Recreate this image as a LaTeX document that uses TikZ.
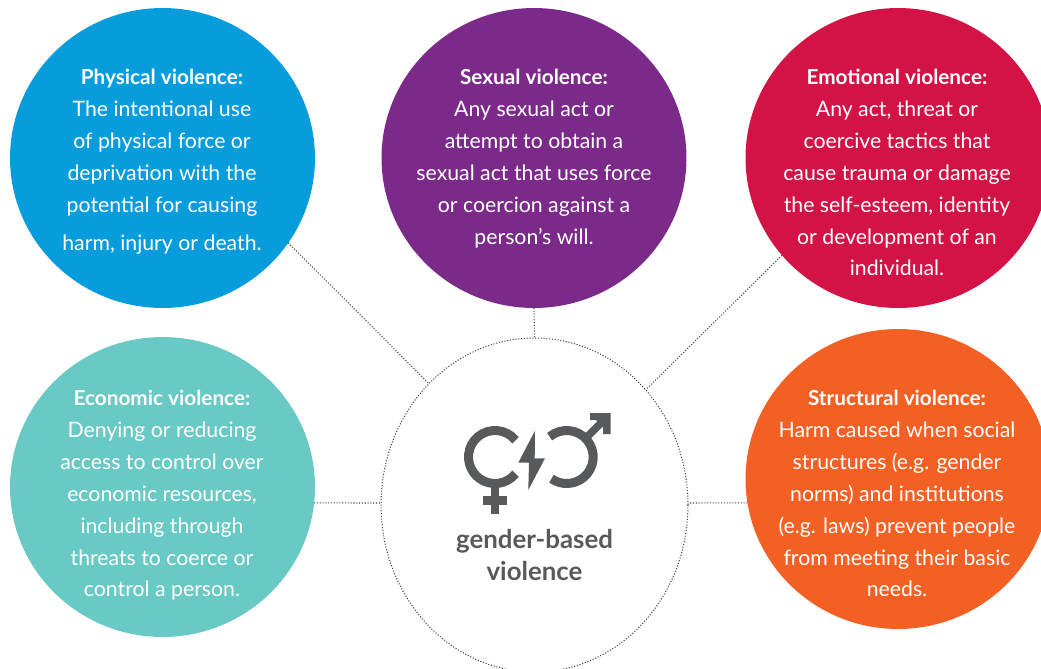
\documentclass[tikz,border=0pt]{standalone}
\usepackage{fontspec}
\setmainfont{Lato}
\usetikzlibrary{shapes.geometric}
\definecolor{bluebub}{HTML}{079DDC}
\definecolor{purplebub}{HTML}{7B2A8A}
\definecolor{redbub}{HTML}{D31345}
\definecolor{tealbub}{HTML}{68C9C5}
\definecolor{orangebub}{HTML}{F46023}
\definecolor{icongray}{HTML}{58595B}
\begin{document}
\begin{tikzpicture}[x=0.02cm,y=-0.02cm,
    bubble/.style={ellipse,minimum width=6.1cm,minimum height=6cm,inner sep=0pt,outer sep=0pt},
    bubbletext/.style={anchor=north,align=center,inner sep=0pt,text=white,
      font=\fontsize{12.1}{18.14}\selectfont},
    dotline/.style={black!75,line width=0.6pt,dash pattern=on 0.6pt off 1pt}]
  \path[use as bounding box,clip] (0,0) rectangle (1041,669);

  % Draw the five bubbles
  \foreach \name/\x/\y/\col in {physical/162.5/158/bluebub,sexual/534/158/purplebub,
    emotional/898/158/redbub,economic/162.5/487/tealbub,structural/898/479/orangebub} {
    \node[bubble,fill=\col] (\name) at (\x,\y) {};
  }

  % Middle ring
  \node[ellipse,dotline,draw,minimum width=6.14cm,minimum height=6.68cm,inner sep=0pt,outer sep=0pt]
    (hub) at (534.5,505) {};

  % Connectors to the ring
  \draw[dotline] (physical.-34) -- (hub.131);
  \draw[dotline] (sexual.south) -- (hub.north);
  \draw[dotline] (emotional.-140) -- (hub.46);
  \draw[dotline] (economic.-6) -- ([yshift=0.04cm]hub.west);
  \draw[dotline] (structural.189) -- ([yshift=0.04cm]hub.east);

  % Bubble texts
  \node[bubbletext] (physicaltext) at (162,69) {{\fontsize{11.8}{18.14}\selectfont\textbf{Physical violence:}}\\The intentional use\\of physical force or\\deprivation with the\\potential for causing\\[3.4pt]harm, injury or death.};
  \node[bubbletext] (sexualtext) at (534,69) {{\fontsize{11.8}{18.14}\selectfont\textbf{Sexual violence:}}\\Any sexual act or\\attempt to obtain a\\sexual act that uses force\\or coercion against a\\person’s will.};
  \node[bubbletext] (emotionaltext) at (897,69) {{\fontsize{11.8}{18.14}\selectfont\textbf{Emotional violence:}}\\Any act, threat or\\coercive tactics that\\cause trauma or damage\\the self-esteem, identity\\or development of an\\individual.};
  \node[bubbletext] (economictext) at (162,390) {{\fontsize{11.8}{18.14}\selectfont\textbf{Economic violence:}}\\Denying or reducing\\access to control over\\economic resources,\\including through\\threats to coerce or\\control a person.};
  \node[bubbletext] (structuraltext) at (897,390) {{\fontsize{11.8}{18.14}\selectfont\textbf{Structural violence:}}\\Harm caused when social\\structures (e.g. gender\\norms) and institutions\\(e.g. laws) prevent people\\from meeting their basic\\needs.};

  % Female sign
  \draw[icongray,line width=0.18cm] ([shift={(39:0.53cm)}]495,457) arc[start angle=39,end angle=321,radius=0.53cm];
  \fill[icongray] (490.7,484) rectangle (499.3,514);
  \fill[icongray] (483.3,496) rectangle (506.7,505.3);

  % Bolt
  \fill[icongray] (535,430.7) -- (518.3,462.7) -- (529,462.7) -- (528.3,490) -- (545,458.3) -- (534.7,458.3) -- cycle;

  % Male sign
  \draw[icongray,line width=0.18cm] ([shift={(130:0.53cm)}]566.7,457) arc[start angle=130,end angle=-125,radius=0.53cm];
  \draw[icongray,line width=0.15cm] (586,438) -- (603,421);
  \fill[icongray] (590,413) -- (610.5,413) -- (610.5,434) -- (603,434) -- (603,427) -- (596,420) -- (590,420) -- cycle;

  % Label of the ring
  \node[anchor=north,align=center,inner sep=0pt,text=icongray,font=\fontsize{14.7}{18.14}\selectfont\bfseries]
    (hublabel) at (534.5,529) {gender-based\\violence};
\end{tikzpicture}
\end{document}
